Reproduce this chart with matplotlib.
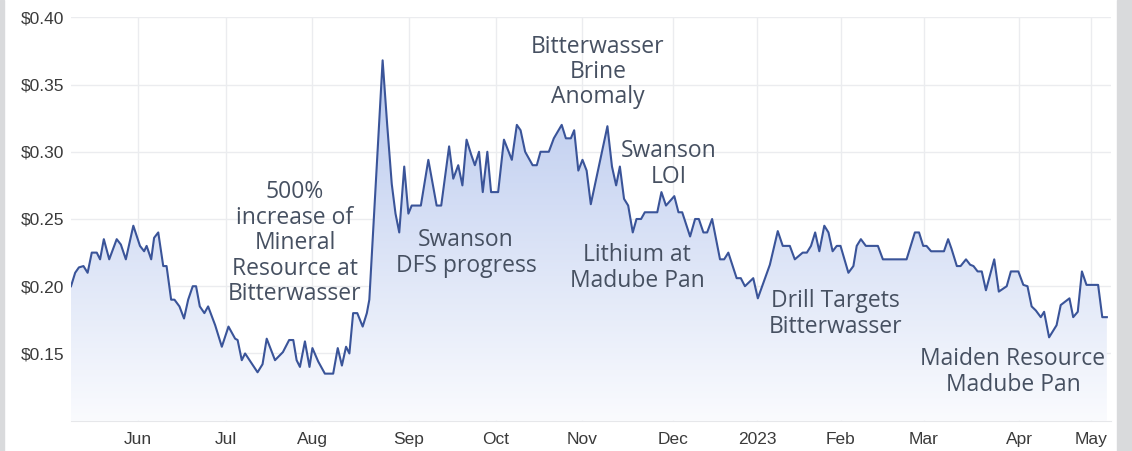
import numpy as np
import matplotlib
matplotlib.use('Agg')
import matplotlib.pyplot as plt
from matplotlib.patches import Polygon, Rectangle
from matplotlib.colors import LinearSegmentedColormap


# trading-day position of each visible vertex, and the share price there
days = [0.0, 1.0, 1.9, 3.0, 4.0, 5.0, 6.2, 7.0, 7.9, 9.2,
        11.0, 12.0, 13.2, 15.0, 16.6, 17.6, 18.2, 19.3, 20.0, 21.0,
        22.2, 23.0, 24.1, 24.9, 26.1, 27.2, 28.2, 29.3, 30.1, 31.0,
        32.1, 33.0, 34.7, 36.3, 37.9, 39.5, 40.1, 41.1, 41.9, 44.9,
        46.1, 47.1, 49.1, 51.0, 52.5, 53.5, 54.3, 55.1, 56.3, 57.4,
        58.1, 59.5, 61.1, 63.1, 64.2, 65.2, 66.2, 67.0, 67.9, 68.9,
        70.2, 71.2, 71.8, 75.0, 76.1, 77.2, 78.1, 79.0, 80.2, 81.2,
        82.0, 84.2, 86.0, 88.0, 89.1, 91.0, 92.0, 93.2, 94.2, 95.2,
        96.3, 97.2, 98.2, 99.1, 100.2, 101.1, 102.8, 104.2, 106.1, 107.3,
        108.2, 109.3, 111.1, 112.1, 113.0, 115.0, 116.2, 118.1, 119.1, 120.3,
        121.1, 122.1, 123.1, 124.1, 125.1, 129.1, 130.2, 131.2, 132.1, 133.1,
        134.1, 135.2, 136.1, 137.2, 138.1, 141.1, 142.1, 143.2, 145.2, 146.2,
        147.1, 149.0, 150.2, 151.1, 152.2, 153.1, 154.3, 156.2, 157.2, 158.2,
        160.2, 161.2, 162.2, 164.2, 165.3, 168.2, 170.1, 171.3, 173.0, 174.2,
        176.1, 177.1, 178.1, 179.1, 180.1, 181.3, 182.3, 183.3, 184.3, 185.2,
        187.1, 188.3, 189.1, 190.1, 191.3, 194.2, 195.4, 201.1, 203.1, 204.1,
        205.1, 205.9, 207.0, 210.1, 211.1, 211.9, 213.2, 214.1, 215.4, 216.4,
        217.2, 218.2, 219.2, 220.2, 222.2, 223.3, 225.2, 226.2, 228.0, 229.2,
        230.2, 231.2, 232.2, 233.4, 234.2, 235.4, 237.2, 238.2, 240.3, 241.2,
        242.3, 243.3, 244.4, 247.2, 248.2, 249.3]

price = [0.200, 0.210, 0.214, 0.215, 0.210, 0.225, 0.225, 0.220, 0.235, 0.220,
         0.235, 0.231, 0.220, 0.245, 0.230, 0.226, 0.230, 0.220, 0.236, 0.240,
         0.215, 0.215, 0.190, 0.190, 0.185, 0.176, 0.190, 0.200, 0.200, 0.185,
         0.180, 0.185, 0.171, 0.155, 0.170, 0.161, 0.160, 0.145, 0.150, 0.136,
         0.142, 0.161, 0.145, 0.151, 0.160, 0.160, 0.145, 0.140, 0.159, 0.140,
         0.154, 0.144, 0.135, 0.135, 0.154, 0.141, 0.155, 0.150, 0.180, 0.180,
         0.170, 0.180, 0.190, 0.368, 0.320, 0.276, 0.254, 0.240, 0.289, 0.254,
         0.260, 0.260, 0.294, 0.260, 0.260, 0.304, 0.280, 0.290, 0.275, 0.309,
         0.298, 0.290, 0.300, 0.270, 0.300, 0.270, 0.270, 0.309, 0.294, 0.320,
         0.316, 0.300, 0.290, 0.290, 0.300, 0.300, 0.310, 0.320, 0.310, 0.310,
         0.316, 0.286, 0.294, 0.286, 0.261, 0.319, 0.289, 0.275, 0.289, 0.265,
         0.260, 0.240, 0.250, 0.250, 0.255, 0.255, 0.270, 0.260, 0.267, 0.255,
         0.255, 0.237, 0.250, 0.250, 0.240, 0.240, 0.250, 0.220, 0.220, 0.225,
         0.206, 0.206, 0.200, 0.206, 0.191, 0.216, 0.241, 0.230, 0.230, 0.220,
         0.225, 0.225, 0.230, 0.240, 0.226, 0.245, 0.240, 0.226, 0.230, 0.230,
         0.210, 0.215, 0.230, 0.235, 0.230, 0.230, 0.220, 0.220, 0.240, 0.240,
         0.230, 0.230, 0.226, 0.226, 0.235, 0.228, 0.215, 0.215, 0.220, 0.216,
         0.215, 0.211, 0.211, 0.197, 0.220, 0.196, 0.200, 0.211, 0.211, 0.201,
         0.200, 0.185, 0.182, 0.177, 0.181, 0.162, 0.171, 0.186, 0.191, 0.177,
         0.181, 0.211, 0.201, 0.201, 0.177, 0.177]

month_pos = [16.1, 37.3, 58.0, 81.3, 102.3, 123.0, 144.9, 165.1, 185.3, 205.3, 228.2, 245.5]
month_labels = ['Jun', 'Jul', 'Aug', 'Sep', 'Oct', 'Nov', 'Dec', '2023', 'Feb', 'Mar', 'Apr', 'May']

y_ticks = [0.15, 0.20, 0.25, 0.30, 0.35, 0.40]

# event notes: text, trading day, price
notes = [
    ('500%\nincrease of\nMineral\nResource at\nBitterwasser', 53.9, 0.232),
    ('Swanson\nDFS progress', 95.1, 0.2246),
    ('Bitterwasser\nBrine\nAnomaly', 126.8, 0.3593),
    ('Swanson\nLOI', 143.9, 0.2908),
    ('Lithium at\nMadube Pan', 136.2, 0.2135),
    ('Drill Targets\nBitterwasser', 183.9, 0.1792),
    ('Maiden Resource\nMadube Pan', 226.7, 0.1361),
]

line_color = '#3a5499'
y_min, y_max = 0.10, 0.40

fig = plt.figure(figsize=(11.32, 4.51), dpi=100)
ax = fig.add_axes([71 / 1132, 1 - 420.7 / 451, 1040 / 1132, 403.4 / 451])

# grey page edges
fig.patches.append(Rectangle((0, 0), 4 / 1132, 1, transform=fig.transFigure,
                             color='#d9dadc', zorder=0))
fig.patches.append(Rectangle((1117 / 1132, 0), 15 / 1132, 1, transform=fig.transFigure,
                             color='#d9dadc', zorder=0))

x = np.array(days)
y = np.array(price)

# gradient area under the line
verts = np.column_stack([np.r_[x[0], x, x[-1]], np.r_[y_min, y, y_min]])
area = Polygon(verts, closed=True, facecolor='none', edgecolor='none')
ax.add_patch(area)
cmap = LinearSegmentedColormap.from_list('area', ['#fafbfe', '#b9c9ee'])
grad = np.linspace(0, 1, 256).reshape(-1, 1)
im = ax.imshow(grad, cmap=cmap, origin='lower', aspect='auto',
               extent=[x[0], x[-1], y_min, y.max()], zorder=1)
im.set_clip_path(area)

ax.plot(x, y, color=line_color, linewidth=1.5, zorder=3)

for text, nx, ny in notes:
    ax.text(nx, ny, text, ha='center', va='center', fontsize=16.5,
            family='Open Sans', color='#465061', linespacing=1.08, zorder=4)

ax.set_xlim(0, 250.3)
ax.set_ylim(y_min, y_max)
ax.set_xticks(month_pos)
ax.set_xticklabels(month_labels)
ax.set_yticks(y_ticks)
ax.set_yticklabels(['${:.2f}'.format(v) for v in y_ticks])
ax.tick_params(length=0, labelsize=12.5, labelcolor='#3a3a3a')
ax.tick_params(axis='x', pad=8)
ax.tick_params(axis='y', pad=5)
for lab in ax.get_xticklabels() + ax.get_yticklabels():
    lab.set_family('Liberation Sans')

ax.grid(True, color='#ebecef', linewidth=1)
ax.set_axisbelow(True)
for side in ['top', 'right', 'left']:
    ax.spines[side].set_visible(False)
ax.spines['bottom'].set_color('#e6e7ea')

fig.savefig('out.png', dpi=100)
